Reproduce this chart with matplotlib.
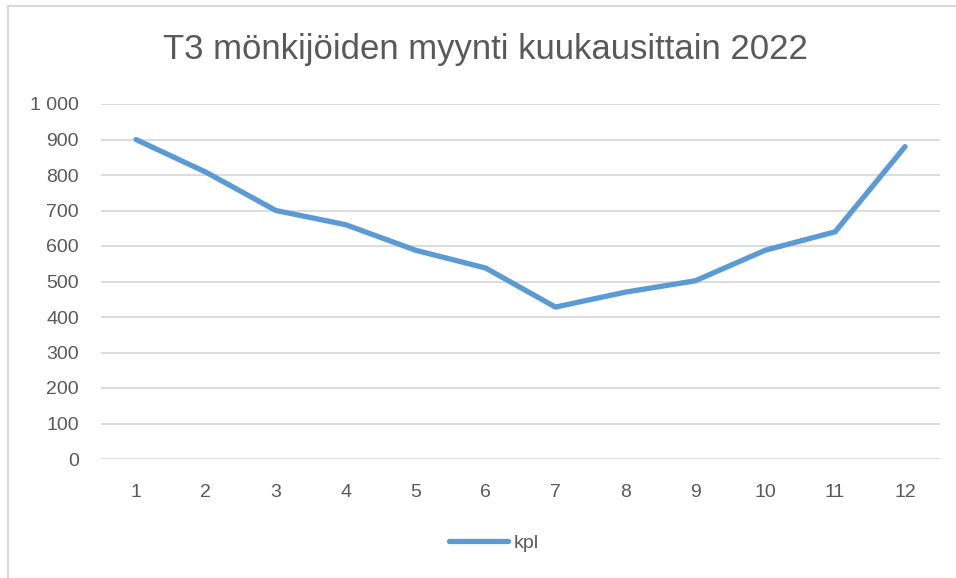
import matplotlib.pyplot as plt
from matplotlib.lines import Line2D
from matplotlib.ticker import FuncFormatter

# Chart data
months = [1, 2, 3, 4, 5, 6, 7, 8, 9, 10, 11, 12]
kpl = [900, 808, 700, 660, 588, 538, 428, 470, 502, 588, 640, 880]
y_ticks = [0, 100, 200, 300, 400, 500, 600, 700, 800, 900, 1000]

W, H = 956, 578
fig = plt.figure(figsize=(W / 100, H / 100), dpi=100)
plt.rcParams['font.family'] = ['Liberation Sans', 'DejaVu Sans']

# Plot area in pixels: x 101..940, y 104..459
ax = fig.add_axes([101 / W, 1 - 459 / H, (940 - 101) / W, (459 - 104) / H])

ax.plot(months, kpl, color='#5B9BD5', lw=3.8, solid_capstyle='round',
        solid_joinstyle='round', label='kpl', zorder=3)

ax.set_xlim(0.5, 12.5)
ax.set_ylim(0, 1000)
ax.set_xticks(months)
ax.set_yticks(y_ticks)
ax.yaxis.set_major_formatter(FuncFormatter(lambda v, p: f"{int(v):,}".replace(",", " ")))
ax.grid(axis='y', color='#D9D9D9', lw=1.3)
ax.set_axisbelow(True)
for s in ax.spines.values():
    s.set_visible(False)
ax.tick_params(length=0, labelsize=14, colors='#595959', pad=16)
ax.tick_params(axis='x', pad=18)

fig.text(485 / W, 1 - 50 / H, "T3 mönkijöiden myynti kuukausittain 2022",
         ha='center', va='center', fontsize=25, color='#595959')

handle = Line2D([0], [0], color='#5B9BD5', lw=3.8, solid_capstyle='round')
fig.legend([handle], ['kpl'], loc='center', bbox_to_anchor=(494 / W, 1 - 543 / H),
           frameon=False, fontsize=14, labelcolor='#595959', handlelength=3.0,
           handletextpad=0.3)

# chart frame (top and left edges visible)
fig.add_artist(Line2D([8 / W, 1], [1 - 6 / H, 1 - 6 / H], color='#D9D9D9', lw=1.5))
fig.add_artist(Line2D([8 / W, 8 / W], [0, 1 - 6 / H], color='#D9D9D9', lw=1.5))

fig.savefig('out.png', dpi=100, facecolor='white')
